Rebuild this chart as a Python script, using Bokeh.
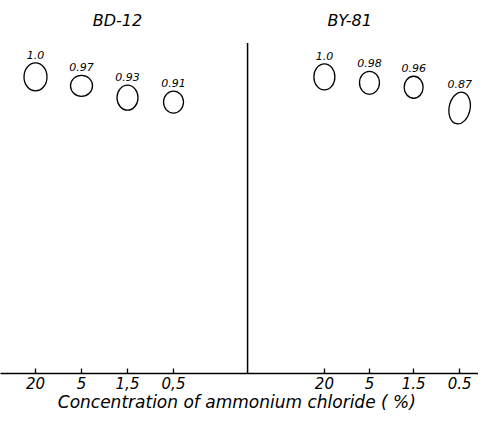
from bokeh.plotting import figure
from bokeh.models import Range1d, FixedTicker, ColumnDataSource
from bokeh.core.properties import value
from bokeh.embed import file_html
from bokeh.resources import INLINE

# ---------------- data ----------------
strains = ["BD-12", "BY-81"]
tick_labels_bd12 = ["20", "5", "1,5", "0,5"]
tick_labels_by81 = ["20", "5", "1.5", "0.5"]
rf_bd12 = [1.0, 0.97, 0.93, 0.91]
rf_by81 = [1.0, 0.98, 0.96, 0.87]
rf_text_bd12 = ["1.0", "0.97", "0.93", "0.91"]
rf_text_by81 = ["1.0", "0.98", "0.96", "0.87"]
# observed centre of each spot (relative migration)
spot_centre_bd12 = [1.0, 0.97, 0.93, 0.915]
spot_centre_by81 = [1.0, 0.98, 0.965, 0.895]
x_title = "Concentration of  ammonium chloride ( %)"

# ---------------- layout / styles ----------------
pos_bd12 = [100, 200, 300, 400]
pos_by81 = [728, 826, 922, 1022]
divider_x = 561
spot_w_bd12 = [23, 22, 21, 20]
spot_h_bd12 = [28, 21, 25, 22]
spot_w_by81 = [21, 20, 19, 21]
spot_h_by81 = [26, 23, 22, 32]
spot_angle_by81 = [0, 0, 0, -0.2]
FONT = "DejaVu Sans"

p = figure(width=478, height=414, output_backend="svg", toolbar_location=None,
           x_range=Range1d(23.9, 1063.0), y_range=Range1d(0, 1.2575),
           min_border_left=0, min_border_right=0, min_border_top=0,
           min_border_bottom=38)
p.outline_line_color = None
p.grid.visible = False
p.yaxis.visible = False

xs = pos_bd12 + pos_by81
src = ColumnDataSource(dict(
    x=xs,
    y=spot_centre_bd12 + spot_centre_by81,
    w=spot_w_bd12 + spot_w_by81,
    h=spot_h_bd12 + spot_h_by81,
    a=[0, 0, 0, 0] + spot_angle_by81,
    rf=rf_bd12 + rf_by81,
    lab=rf_text_bd12 + rf_text_by81,
    off=[-(h / 2 + 8) for h in spot_h_bd12 + spot_h_by81],
))

p.ellipse(x="x", y="y", width="w", height="h", angle="a", source=src,
          width_units="screen", height_units="screen",
          fill_color=None, line_color="black", line_width=1.3)
p.text(x="x", y="y", text="lab", y_offset="off", source=src,
       text_font=value(FONT), text_font_style="italic", text_font_size="11px",
       text_align="center", text_baseline="middle", text_color="black")

# strain headings
p.text(x=[278, 783], y=[1.19, 1.19], text=strains,
       text_font=value(FONT), text_font_style="italic", text_font_size="16px",
       text_align="center", text_baseline="middle", text_color="black")

# divider
p.segment(x0=[divider_x], y0=[0], x1=[divider_x], y1=[1.114],
          line_color="black", line_width=1.5)

ax = p.xaxis[0]
ax.ticker = FixedTicker(ticks=xs)
ax.major_label_overrides = {k: v for k, v in zip(xs, tick_labels_bd12 + tick_labels_by81)}
ax.major_tick_in = 5
ax.major_tick_out = 0
ax.minor_tick_line_color = None
ax.axis_line_width = 1.5
ax.axis_line_color = "black"
ax.major_tick_line_color = "black"
ax.major_tick_line_width = 1.3
ax.major_label_text_font = FONT
ax.major_label_text_font_style = "italic"
ax.major_label_text_font_size = "15px"
ax.major_label_text_color = "black"
ax.major_label_standoff = 3
ax.axis_label = x_title
ax.axis_label_text_font = FONT
ax.axis_label_text_font_style = "italic"
ax.axis_label_text_font_size = "17px"
ax.axis_label_text_color = "black"
ax.axis_label_standoff = 0

open("out.html", "w").write(file_html(p, INLINE))
